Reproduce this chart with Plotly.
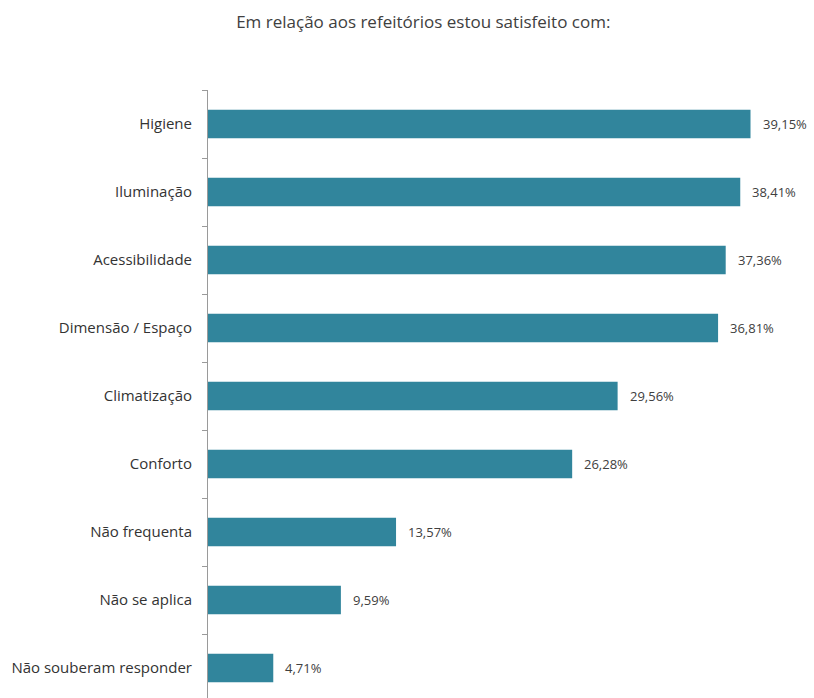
import plotly.graph_objects as go

# Survey answers, listed top to bottom
categories = [
    "Higiene",
    "Iluminação",
    "Acessibilidade",
    "Dimensão / Espaço",
    "Climatização",
    "Conforto",
    "Não frequenta",
    "Não se aplica",
    "Não souberam responder",
]
percentages = [39.15, 38.41, 37.36, 36.81, 29.56, 26.28, 13.57, 9.59, 4.71]

title_text = "Em relação aos refeitórios estou satisfeito com:"

value_labels = [f"{v:.2f}".replace(".", ",") + "%" for v in percentages]

FONT = "Open Sans"
BAR_COLOR = "#31859C"

fig = go.Figure(
    go.Bar(
        x=percentages,
        y=categories,
        orientation="h",
        marker=dict(color=BAR_COLOR, line=dict(width=0)),
        hoverinfo="skip",
    )
)

# Value labels sit a little to the right of each bar end
for cat, val, lab in zip(categories, percentages, value_labels):
    fig.add_annotation(
        x=val,
        y=cat,
        text=lab,
        showarrow=False,
        xanchor="left",
        yanchor="middle",
        xshift=10,
        font=dict(family=FONT, size=13, color="#404040"),
    )

fig.update_layout(
    width=814,
    height=698,
    margin=dict(l=208, r=24, t=90, b=0),
    paper_bgcolor="white",
    plot_bgcolor="white",
    bargap=0.58,
    showlegend=False,
    title=dict(
        text=title_text,
        x=0.52,
        xanchor="center",
        xref="container",
        y=1 - 22 / 698,
        yanchor="middle",
        yref="container",
        font=dict(family=FONT, size=17, color="#404040"),
    ),
    xaxis=dict(
        range=[0, 42],
        visible=False,
        fixedrange=True,
    ),
    yaxis=dict(
        categoryorder="array",
        categoryarray=categories,
        range=[8.44, -0.5],
        showline=True,
        linecolor="#9a9a9a",
        linewidth=1,
        ticks="outside",
        tickson="boundaries",
        ticklen=5,
        tickcolor="#9a9a9a",
        showgrid=False,
        zeroline=False,
        tickfont=dict(family=FONT, size=15, color="#333333"),
        ticklabelstandoff=12,
    ),
)

fig.write_html("out.html")
